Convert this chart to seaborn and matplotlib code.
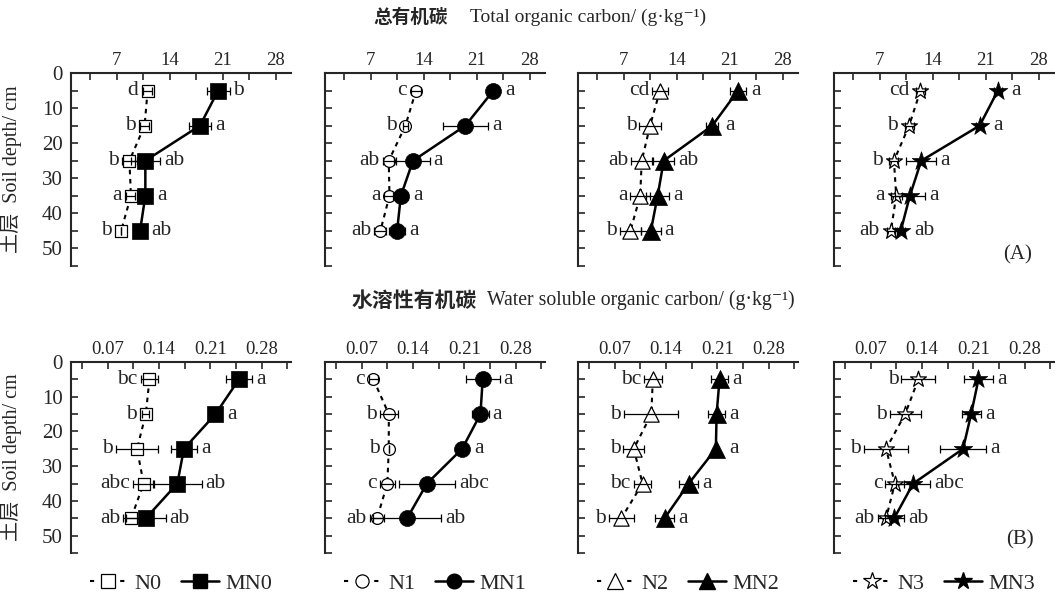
import numpy as np
import pandas as pd
import matplotlib
matplotlib.use("Agg")
import matplotlib.pyplot as plt
from matplotlib.ticker import MultipleLocator
from matplotlib.lines import Line2D
import seaborn as sns

# ---------------- data ----------------
depths = [5, 15, 25, 35, 45]
groups_N = ["N0", "N1", "N2", "N3"]
groups_MN = ["MN0", "MN1", "MN2", "MN3"]

# Total organic carbon (g/kg)
toc_N = [[11.1, 10.7, 8.7, 8.9, 7.6],
         [13.0, 11.6, 9.4, 9.5, 8.3],
         [11.8, 10.5, 9.4, 9.2, 7.9],
         [12.4, 10.9, 8.9, 9.2, 8.5]]
toc_N_err = [[0.6, 0.6, 1.0, 0.6, 0.0],
             [0.7, 0.3, 0.7, 0.7, 0.8],
             [1.0, 1.4, 1.4, 1.3, 1.4],
             [0.6, 0.6, 0.6, 0.7, 0.5]]
toc_MN = [[20.4, 18.0, 10.8, 10.8, 10.1],
          [23.2, 19.5, 12.6, 11.0, 10.5],
          [22.1, 18.7, 12.3, 11.5, 10.6],
          [22.6, 20.2, 12.5, 11.0, 9.8]]
toc_MN_err = [[1.5, 1.5, 1.9, 0.5, 0.5],
              [0.0, 3.0, 2.2, 1.0, 1.0],
              [1.0, 0.8, 1.4, 1.5, 1.3],
              [0.5, 0.5, 2.0, 2.0, 0.5]]
toc_N_letters = [["d", "b", "b", "a", "b"], ["c", "b", "ab", "a", "ab"],
                 ["cd", "b", "ab", "a", "b"], ["cd", "b", "b", "a", "ab"]]
toc_MN_letters = [["b", "a", "ab", "a", "ab"], ["a", "a", "a", "a", "a"],
                  ["a", "a", "ab", "a", "a"], ["a", "a", "a", "a", "ab"]]

# Water soluble organic carbon (g/kg)
wsoc_N = [[0.127, 0.122, 0.110, 0.119, 0.102],
          [0.086, 0.107, 0.107, 0.105, 0.091],
          [0.122, 0.120, 0.096, 0.108, 0.079],
          [0.135, 0.117, 0.091, 0.103, 0.091]]
wsoc_N_err = [[0.012, 0.005, 0.029, 0.014, 0.011],
              [0.006, 0.012, 0.0, 0.010, 0.010],
              [0.012, 0.037, 0.014, 0.012, 0.017],
              [0.023, 0.021, 0.030, 0.013, 0.011]]
wsoc_MN = [[0.249, 0.217, 0.174, 0.165, 0.122],
           [0.235, 0.232, 0.207, 0.159, 0.132],
           [0.213, 0.209, 0.208, 0.171, 0.138],
           [0.217, 0.207, 0.196, 0.128, 0.102]]
wsoc_MN_err = [[0.018, 0.0, 0.018, 0.033, 0.027],
               [0.023, 0.011, 0.0, 0.038, 0.046],
               [0.012, 0.012, 0.0, 0.013, 0.013],
               [0.020, 0.013, 0.031, 0.023, 0.013]]
wsoc_N_letters = [["bc", "b", "b", "abc", "ab"], ["c", "b", "b", "c", "ab"],
                  ["bc", "b", "b", "bc", "b"], ["b", "b", "b", "c", "ab"]]
wsoc_MN_letters = [["a", "a", "a", "ab", "ab"], ["a", "a", "a", "abc", "ab"],
                   ["a", "a", "a", "a", "a"], ["a", "a", "a", "abc", "ab"]]

toc_ticks = [7, 14, 21, 28]
toc_ticklabels = ["7", "14", "21", "28"]
wsoc_ticks = [0.07, 0.14, 0.21, 0.28]
wsoc_ticklabels = ["0.07", "0.14", "0.21", "0.28"]
depth_ticks = [0, 10, 20, 30, 40, 50]

# ---------------- style ----------------
sns.set_theme(style="ticks")
plt.rcParams["font.family"] = ["Liberation Serif", "Noto Sans CJK SC", "DejaVu Serif"]
plt.rcParams["axes.linewidth"] = 1.5

W, H = 1055, 598
fig = plt.figure(figsize=(W / 100, H / 100), dpi=100)

lefts = [71, 325, 578, 834]
ax_w = 220
rows = [(73, 266), (362, 553)]

markers = ["s", "o", "^", "*"]
open_size = [9, 8.5, 11, 12]
fill_size = [11, 11.5, 13, 14]

FS = 13.5      # x tick labels
FS_Y = 15      # y tick labels
FS_LET = 15.5  # significance letters
FS_LEG = 16    # legend


def px_rect(l, t, b):
    return [l / W, (H - b) / H, ax_w / W, (b - t) / H]


def draw_panel(ax, nvals, nerr, mvals, merr, nlet, mlet, k, xlim, ticks, ticklabels, minor):
    # lines
    sns.lineplot(x=nvals, y=depths, orient="y", sort=False, color="black",
                 linewidth=1.5, linestyle=(0, (2.2, 2.2)), ax=ax, zorder=1)
    sns.lineplot(x=mvals, y=depths, orient="y", sort=False, color="black",
                 linewidth=1.8, ax=ax, zorder=1)
    # markers
    sns.scatterplot(x=nvals, y=depths, marker=markers[k], s=open_size[k] ** 2,
                    color="white", edgecolor="black", linewidth=0.9, ax=ax, zorder=2.5)
    ax.errorbar(nvals, depths, xerr=nerr, fmt="none", ecolor="black",
                elinewidth=0.9, capsize=3, capthick=0.9, zorder=3)
    ax.errorbar(mvals, depths, xerr=merr, fmt="none", ecolor="black",
                elinewidth=0.9, capsize=3, capthick=0.9, zorder=3)
    sns.scatterplot(x=mvals, y=depths, marker=markers[k], s=fill_size[k] ** 2,
                    color="black", edgecolor="black", linewidth=0.5, ax=ax, zorder=4)

    ax.set_xlim(*xlim)
    ax.set_ylim(55, 0)
    ax.set_xticks(ticks)
    ax.set_xticklabels(ticklabels, fontsize=FS)
    ax.xaxis.set_minor_locator(MultipleLocator(minor))
    ax.set_yticks(depth_ticks)
    ax.yaxis.set_minor_locator(MultipleLocator(5))
    ax.tick_params(axis="both", which="both", direction="in", length=5, width=1.2,
                   top=True, bottom=False, labeltop=True, labelbottom=False,
                   right=False, left=True, pad=3)
    ax.tick_params(axis="x", labelsize=FS)
    ax.tick_params(axis="y", labelsize=FS_Y, pad=6)
    for s in ["right", "bottom"]:
        ax.spines[s].set_visible(False)
    for s in ["left", "top"]:
        ax.spines[s].set_linewidth(1.5)
    ax.set_xlabel("")
    ax.set_ylabel("")

    # letters
    pxs = fig.dpi / 72.0
    x0, x1 = xlim
    ppu = (ax_w) / (x1 - x0)
    for v, e, d, t in zip(nvals, nerr, depths, nlet):
        off = max(e * ppu, open_size[k] * pxs / 2) + 3
        ax.annotate(t, xy=(v, d), xytext=(-off, 0), textcoords="offset pixels",
                    ha="right", va="center", fontsize=FS_LET)
    for v, e, d, t in zip(mvals, merr, depths, mlet):
        off = max(e * ppu, fill_size[k] * pxs / 2) + 4
        ax.annotate(t, xy=(v, d), xytext=(off, 0), textcoords="offset pixels",
                    ha="left", va="center", fontsize=FS_LET)


axes_top, axes_bot = [], []
for k in range(4):
    ax = fig.add_axes(px_rect(lefts[k], *rows[0]))
    draw_panel(ax, toc_N[k], toc_N_err[k], toc_MN[k], toc_MN_err[k],
               toc_N_letters[k], toc_MN_letters[k], k, (1, 30),
               toc_ticks, toc_ticklabels, 3.5)
    axes_top.append(ax)
    ax2 = fig.add_axes(px_rect(lefts[k], *rows[1]))
    draw_panel(ax2, wsoc_N[k], wsoc_N_err[k], wsoc_MN[k], wsoc_MN_err[k],
               wsoc_N_letters[k], wsoc_MN_letters[k], k, (0.02, 0.32),
               wsoc_ticks, wsoc_ticklabels, 0.035)
    axes_bot.append(ax2)
    if k > 0:
        ax.tick_params(axis="y", labelleft=False)
        ax2.tick_params(axis="y", labelleft=False)

    # legend under bottom panels
    hN = Line2D([], [], color="black", linestyle=(0, (2.0, 12.5)), linewidth=1.5,
                marker=markers[k], markersize=open_size[k] + 1, markerfacecolor="white",
                markeredgecolor="black", markeredgewidth=0.9)
    hM = Line2D([], [], color="black", linestyle="-", linewidth=1.8,
                marker=markers[k], markersize=fill_size[k] - 1, markerfacecolor="black",
                markeredgecolor="black")
    ax2.legend([hN, hM], [groups_N[k], groups_MN[k]], loc="center",
               bbox_to_anchor=(0.5, -0.16), ncol=2, frameon=False, fontsize=FS_LEG,
               handlelength=1.7, handletextpad=0.3, columnspacing=0.9)

for ax in (axes_top[0], axes_bot[0]):
    ax.set_ylabel("土层  Soil depth/ cm", fontsize=14.5)
    ax.yaxis.set_label_coords(-0.225, 0.5)

# titles
fig.text(448 / W, 1 - 17 / H, "总有机碳", ha="right", va="center",
         fontsize=13.4, fontweight="bold", family=["Noto Sans CJK SC"])
fig.text(470 / W, 1 - 17 / H, "Total organic carbon/ (g·kg⁻¹)", ha="left", va="center",
         fontsize=14, family=["Liberation Serif", "DejaVu Serif"])
fig.text(477 / W, 1 - 300 / H, "水溶性有机碳", ha="right", va="center",
         fontsize=15, fontweight="bold", family=["Noto Sans CJK SC"])
fig.text(487 / W, 1 - 300 / H, "Water soluble organic carbon/ (g·kg⁻¹)", ha="left", va="center",
         fontsize=14.2, family=["Liberation Serif", "DejaVu Serif"])

fig.text(1018 / W, 1 - 255 / H, "(A)", ha="center", va="center", fontsize=15)
fig.text(1020 / W, 1 - 540 / H, "(B)", ha="center", va="center", fontsize=15)

fig.savefig("out.png", dpi=100)
